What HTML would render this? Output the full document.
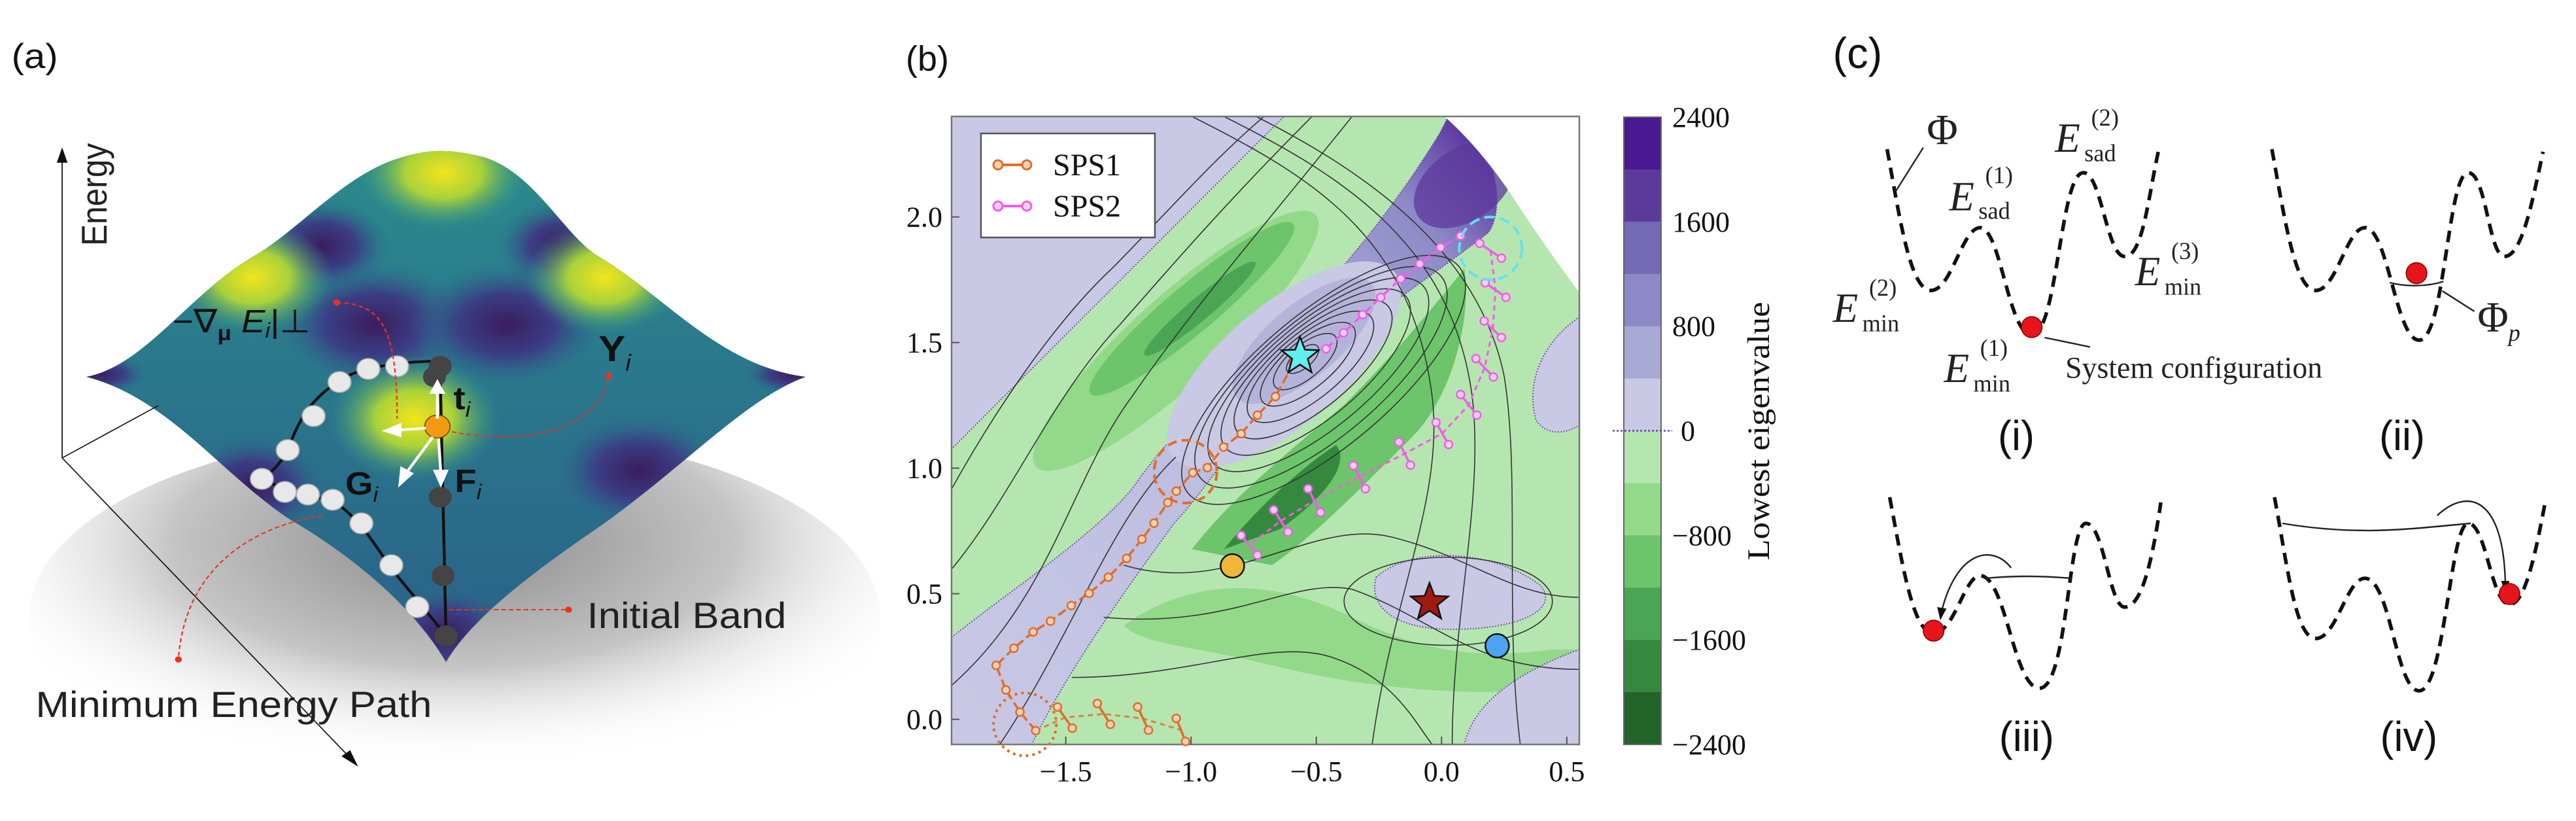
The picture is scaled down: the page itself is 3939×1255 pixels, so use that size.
<!DOCTYPE html>
<html><head><meta charset="utf-8"><style>
html,body{margin:0;padding:0;background:#fff;}
svg{display:block;}
</style></head><body>
<svg id="fig" width="3939" height="1255" viewBox="0 0 3939 1255" xmlns="http://www.w3.org/2000/svg">
<defs>
  <radialGradient id="shadowG" cx="0.5" cy="0.3" r="0.6"><stop offset="0" stop-color="#8a8a8a"/><stop offset="0.55" stop-color="#c4c4c4"/><stop offset="1" stop-color="#fff" stop-opacity="0"/></radialGradient>
  <radialGradient id="yel" cx="0.5" cy="0.5" r="0.5"><stop offset="0" stop-color="#f2e51c"/><stop offset="0.45" stop-color="#a9d23a"/><stop offset="1" stop-color="#2f9a8a" stop-opacity="0"/></radialGradient>
  <radialGradient id="pur" cx="0.5" cy="0.5" r="0.5"><stop offset="0" stop-color="#3b1c5e"/><stop offset="0.5" stop-color="#3a3f85"/><stop offset="1" stop-color="#2b6f8e" stop-opacity="0"/></radialGradient>
  <linearGradient id="surfG" x1="0" y1="0" x2="0" y2="1"><stop offset="0" stop-color="#2a8c8c"/><stop offset="1" stop-color="#2a5f8a"/></linearGradient>
  <linearGradient id="bandPur" x1="0" y1="1" x2="1" y2="0"><stop offset="0" stop-color="#c9c9e6"/><stop offset="0.6" stop-color="#b9b9de"/><stop offset="0.85" stop-color="#8c89c6"/><stop offset="1" stop-color="#4a1890"/></linearGradient>
  <clipPath id="plotClip"><rect x="1455" y="178" width="960" height="960"/></clipPath>
  <clipPath id="surfClip"><path d="M150,720 C250,700 330,560 440,490 C520,440 600,330 700,300 C760,280 800,290 840,300 C930,330 980,450 1040,490 C1150,560 1250,700 1400,720 C1300,760 1200,880 1050,1000 C930,1090 820,1180 775,1265 C730,1180 640,1080 500,990 C380,900 290,760 150,720 Z"/></clipPath>
</defs>

<!-- ============ PANEL A ============ -->
<g transform="scale(0.880,0.8)">
  <text x="20" y="130" font-family="Liberation Sans, sans-serif" font-size="66" fill="#111">(a)</text>
  <ellipse cx="790" cy="1180" rx="740" ry="360" fill="url(#shadowG)"/>
  <g clip-path="url(#surfClip)">
    <rect x="100" y="250" width="1350" height="1050" fill="url(#surfG)"/>
    <ellipse cx="650" cy="620" rx="170" ry="120" fill="url(#pur)"/>
    <ellipse cx="880" cy="620" rx="170" ry="120" fill="url(#pur)"/>
    <ellipse cx="1110" cy="900" rx="150" ry="110" fill="url(#pur)"/>
    <ellipse cx="440" cy="930" rx="130" ry="100" fill="url(#pur)"/>
    <ellipse cx="775" cy="1210" rx="120" ry="90" fill="url(#pur)"/>
    <ellipse cx="170" cy="715" rx="90" ry="40" fill="url(#pur)"/>
    <ellipse cx="1380" cy="715" rx="90" ry="40" fill="url(#pur)"/>
    <ellipse cx="560" cy="470" rx="120" ry="90" fill="url(#pur)"/>
    <ellipse cx="980" cy="470" rx="120" ry="90" fill="url(#pur)"/>
    <ellipse cx="770" cy="330" rx="150" ry="110" fill="url(#yel)"/>
    <ellipse cx="440" cy="530" rx="140" ry="110" fill="url(#yel)"/>
    <ellipse cx="1050" cy="530" rx="140" ry="110" fill="url(#yel)"/>
    <ellipse cx="720" cy="800" rx="150" ry="120" fill="url(#yel)"/>
  </g>
  <g stroke="#111" stroke-width="2" fill="none">
    <line x1="108" y1="875" x2="108" y2="300"/>
    <path d="M100,310 L108,285 L116,310 Z" fill="#111"/>
    <line x1="108" y1="875" x2="610" y2="1450"/>
    <path d="M595,1445 L620,1462 L608,1435 Z" fill="#111"/>
    <line x1="108" y1="875" x2="275" y2="775"/>
  </g>
  <text transform="translate(185,470) rotate(-90)" font-family="Liberation Sans, sans-serif" font-size="62" fill="#222">Energy</text>
  <g>
    <path d="M770,690 C700,690 640,700 600,720 C540,760 520,800 500,860 C480,900 460,910 455,915 C500,940 540,950 575,955 C630,990 660,1060 690,1100 C720,1140 750,1180 775,1215" stroke="#111" stroke-width="5" fill="none"/>
    <g fill="#e8e8e8" stroke="#aaa" stroke-width="2">
      <circle cx="690" cy="700" r="20"/><circle cx="640" cy="705" r="20"/><circle cx="590" cy="730" r="20"/>
      <circle cx="545" cy="795" r="20"/><circle cx="500" cy="860" r="20"/><circle cx="455" cy="915" r="20"/>
      <circle cx="495" cy="940" r="20"/><circle cx="535" cy="945" r="20"/><circle cx="578" cy="955" r="20"/>
      <circle cx="628" cy="1000" r="20"/><circle cx="680" cy="1080" r="20"/><circle cx="725" cy="1160" r="20"/>
    </g>
  </g>
  <g>
    <line x1="765" y1="720" x2="775" y2="1215" stroke="#111" stroke-width="5"/>
    <g fill="#444"><circle cx="765" cy="700" r="20"/><circle cx="755" cy="720" r="20"/><circle cx="765" cy="950" r="20"/><circle cx="770" cy="1100" r="20"/><circle cx="775" cy="1215" r="20"/></g>
    <circle cx="760" cy="815" r="22" fill="#f29a12" stroke="#7a4a00" stroke-width="2"/>
  </g>
  <g stroke="#fff" stroke-width="5" fill="#fff">
    <line x1="760" y1="800" x2="760" y2="745"/><path d="M750,750 L760,730 L770,750Z"/>
    <line x1="740" y1="818" x2="690" y2="822"/><path d="M695,812 L670,823 L695,832Z"/>
    <line x1="752" y1="835" x2="705" y2="905"/><path d="M698,895 L695,925 L715,905Z"/>
    <line x1="762" y1="838" x2="766" y2="905"/><path d="M756,900 L766,925 L776,900Z"/>
  </g>
  <g stroke="#e8341c" stroke-width="2.5" stroke-dasharray="8,5" fill="none">
    <path d="M585,578 C660,580 690,620 690,800"/>
    <path d="M785,825 C900,850 1040,830 1058,718"/>
    <path d="M560,985 C420,1010 320,1100 310,1260"/>
    <path d="M780,1165 L985,1165"/>
  </g>
  <g fill="#e8341c"><circle cx="585" cy="578" r="6"/><circle cx="1058" cy="718" r="6"/><circle cx="310" cy="1260" r="6"/><circle cx="988" cy="1165" r="6"/></g>
  <text x="300" y="635" font-family="Liberation Sans, sans-serif" font-size="62" fill="#111">−∇<tspan font-size="40" font-weight="bold" dy="15">μ</tspan><tspan dy="-15" font-style="italic"> E</tspan><tspan font-size="40" font-style="italic" dy="10">i</tspan><tspan dy="-10">|⊥</tspan></text>
  <text x="1040" y="690" font-family="Liberation Sans, sans-serif" font-size="70" font-weight="bold" fill="#111">Y<tspan font-size="44" font-style="italic" font-weight="normal" dy="18">i</tspan></text>
  <text x="788" y="782" font-family="Liberation Sans, sans-serif" font-size="62" font-weight="bold" fill="#111">t<tspan font-size="40" font-style="italic" font-weight="normal" dy="14">i</tspan></text>
  <text x="600" y="945" font-family="Liberation Sans, sans-serif" font-size="62" font-weight="bold" fill="#111">G<tspan font-size="40" font-style="italic" font-weight="normal" dy="14">i</tspan></text>
  <text x="790" y="940" font-family="Liberation Sans, sans-serif" font-size="62" font-weight="bold" fill="#111">F<tspan font-size="40" font-style="italic" font-weight="normal" dy="14">i</tspan></text>
  <text x="1020" y="1200" font-family="Liberation Sans, sans-serif" font-size="70" fill="#222">Initial Band</text>
  <text x="62" y="1370" font-family="Liberation Sans, sans-serif" font-size="70" fill="#222">Minimum Energy Path</text>
</g>

<!-- ============ PANEL B ============ -->
<g>
  <text x="1385" y="108" font-family="Liberation Sans, sans-serif" font-size="54" fill="#111">(b)</text>
  <g clip-path="url(#plotClip)">
    <g transform="translate(1455,178) scale(0.6125)">
      <rect x="0" y="0" width="1568" height="1568" fill="#b6e6b0"/>
      <path d="M0,0 L830,0 L0,830 Z" fill="#c9c9e6" stroke="#6a3fb0" stroke-width="3" stroke-dasharray="3,4"/>
      <g fill="#93d98a"><ellipse cx="560" cy="560" rx="470" ry="110" transform="rotate(-42 560 560)"/></g>
      <g fill="#6cc56a"><ellipse cx="600" cy="480" rx="330" ry="60" transform="rotate(-40 600 480)"/></g>
      <g fill="#4aa654"><ellipse cx="620" cy="480" rx="180" ry="28" transform="rotate(-40 620 480)"/></g>
      <path d="M0,1300 C150,1180 350,1050 450,930 C500,860 560,780 700,660 C850,520 1050,320 1220,40 L1240,0 L1330,80 C1370,160 1370,250 1340,290 C1200,400 950,560 800,720 C700,820 620,950 560,1010 C420,1200 280,1400 200,1568 L0,1568 Z" fill="url(#bandPur)" stroke="#6a3fb0" stroke-width="3" stroke-dasharray="3,4"/>
      <ellipse cx="830" cy="620" rx="360" ry="150" transform="rotate(-40 830 620)" fill="#c9c9e6"/>
      <ellipse cx="880" cy="560" rx="220" ry="90" transform="rotate(-40 880 560)" fill="#b4b4db"/>
      <path d="M600,1080 C700,950 850,830 980,720 C1100,600 1200,480 1280,380 C1300,500 1250,700 1150,800 C1000,950 900,1050 800,1120 Z" fill="#6cc56a"/>
      <path d="M680,1080 C760,980 880,870 960,820 C1000,870 920,960 820,1030 Z" fill="#35893f"/>
      <path d="M430,1270 C600,1150 800,1150 1000,1250 C1200,1350 1350,1350 1500,1330 L1568,1330 L1568,1420 C1300,1460 1000,1420 800,1370 C600,1320 480,1320 430,1270 Z" fill="#93d98a"/>
      <path d="M1060,1150 C1150,1070 1350,1080 1470,1170 C1520,1230 1420,1280 1250,1280 C1100,1280 1040,1220 1060,1150 Z" fill="#c9c9e6" stroke="#6a3fb0" stroke-width="3" stroke-dasharray="3,4"/>
      <path d="M1568,500 C1480,560 1430,660 1460,760 C1490,800 1540,790 1568,770 Z" fill="#c9c9e6" stroke="#6a3fb0" stroke-width="3" stroke-dasharray="3,4"/>
      <path d="M1280,1568 C1300,1480 1380,1400 1568,1330 L1568,1568 Z" fill="#c9c9e6" stroke="#6a3fb0" stroke-width="3" stroke-dasharray="3,4"/>
      <ellipse cx="1280" cy="170" rx="140" ry="90" transform="rotate(-35 1280 170)" fill="#5c3a9c" opacity="0.75"/>
      <g fill="none" stroke="#333" stroke-width="2.6">
        <path d="M0,1420 C250,1200 300,900 450,700 C600,480 800,250 1000,0"/>
        <path d="M0,1130 C150,950 250,700 420,520 C560,360 700,200 900,0"/>
        <path d="M0,930 C100,750 250,520 400,380 C520,260 640,120 780,0"/>
        <path d="M120,1568 C300,1300 400,1000 560,850"/>
        <path d="M600,0 C900,150 1150,300 1200,700 C1230,950 1100,1200 1050,1568"/>
        <path d="M680,0 C980,150 1250,320 1300,700 C1330,950 1250,1250 1250,1568"/>
        <path d="M760,0 C1060,150 1320,350 1380,650 C1420,900 1380,1250 1420,1568"/>
        <path d="M430,1120 C700,1200 900,1000 1100,1050 C1300,1100 1400,1200 1568,1200"/>
        <path d="M380,1250 C700,1280 850,1150 1000,1180 C1200,1250 1300,1380 1568,1380"/>
        <path d="M300,1400 C600,1400 800,1300 950,1350 C1100,1400 1150,1500 1200,1568"/>
        <ellipse cx="1240" cy="1210" rx="260" ry="110"/>
      </g>
      <path d="M1230,0 C1300,60 1370,150 1420,230 C1480,320 1530,390 1568,440 L1568,0 Z" fill="#fff"/>
    </g>
    <g id="contourLines" fill="none" stroke="#333" stroke-width="1.6"></g>
  </g>
  <rect x="1455" y="178" width="960" height="960" fill="none" stroke="#777" stroke-width="2.5"/>
  <g id="bAxes"></g>
  <g id="bMarks"></g>
  <g>
    <rect x="1500" y="204" width="266" height="159" fill="#fff" stroke="#555" stroke-width="2.5"/>
    <g>
      <line x1="1522" y1="252" x2="1574" y2="252" stroke="#e06c2a" stroke-width="4"/>
      <circle cx="1526" cy="252" r="7" fill="#fbd3b8" stroke="#e06c2a" stroke-width="3"/><circle cx="1570" cy="252" r="7" fill="#fbd3b8" stroke="#e06c2a" stroke-width="3"/>
      <text x="1610" y="268" font-family="Liberation Serif, serif" font-size="48" fill="#111">SPS1</text>
    </g>
    <g>
      <line x1="1522" y1="315" x2="1574" y2="315" stroke="#ef5ee8" stroke-width="4"/>
      <circle cx="1526" cy="315" r="7" fill="#fbd0f7" stroke="#ef5ee8" stroke-width="3"/><circle cx="1570" cy="315" r="7" fill="#fbd0f7" stroke="#ef5ee8" stroke-width="3"/>
      <text x="1610" y="331" font-family="Liberation Serif, serif" font-size="48" fill="#111">SPS2</text>
    </g>
  </g>
  <g id="colorbar"></g>
  <text transform="translate(2705,659) rotate(-90)" text-anchor="middle" font-family="Liberation Serif, serif" font-size="48" fill="#111" textLength="395" lengthAdjust="spacingAndGlyphs">Lowest eigenvalue</text>
</g>

<!-- ============ PANEL C ============ -->
<g transform="translate(2700,0) scale(0.7898,0.8)">
  <text x="130" y="130" font-family="Liberation Sans, sans-serif" font-size="82" fill="#111">(c)</text>
  <g fill="none" stroke="#111" stroke-width="7" stroke-dasharray="22,14">
    <path d="M235,285 C260,420 280,555 320,555 C360,555 380,435 415,435 C455,435 470,640 515,640 C565,640 570,330 615,330 C650,330 660,490 695,490 C730,490 740,380 760,290"/>
    <path d="M980,285 C1005,420 1025,555 1065,555 C1105,555 1125,435 1160,435 C1205,435 1220,650 1265,650 C1315,650 1320,330 1360,330 C1395,330 1400,490 1430,490 C1465,490 1485,380 1505,290"/>
    <path d="M240,950 C265,1080 285,1210 325,1210 C365,1210 385,1100 415,1100 C465,1100 480,1315 530,1315 C585,1315 585,1000 620,1000 C655,1000 665,1160 695,1160 C730,1160 750,1060 765,960"/>
    <path d="M985,950 C1010,1080 1025,1220 1065,1220 C1105,1220 1125,1105 1160,1105 C1210,1105 1220,1320 1265,1320 C1315,1320 1325,1000 1360,1000 C1395,1000 1405,1155 1440,1155 C1470,1155 1490,1060 1510,955"/>
  </g>
  <g fill="none" stroke="#222" stroke-width="3">
    <line x1="305" y1="282" x2="252" y2="365"/>
    <line x1="540" y1="645" x2="628" y2="663"/>
    <path d="M1208,540 C1240,548 1280,548 1312,538"/>
    <line x1="1310" y1="556" x2="1372" y2="595"/>
    <path d="M425,1105 C480,1100 530,1100 592,1105"/>
    <path d="M475,1085 C440,1040 370,1050 340,1170"/>
    <path d="M1000,1000 C1150,1025 1250,1010 1365,1000"/>
    <path d="M1300,985 C1360,930 1430,950 1432,1120"/>
  </g>
  <g fill="#111"><path d="M332,1160 L338,1185 L350,1163Z"/><path d="M1424,1110 L1432,1135 L1440,1110Z"/></g>
  <g fill="#e8141c" stroke="#8a0000" stroke-width="2">
    <circle cx="515" cy="625" r="20"/><circle cx="1260" cy="522" r="20"/><circle cx="325" cy="1205" r="20"/><circle cx="1440" cy="1135" r="20"/>
  </g>
  <g font-family="Liberation Serif, serif" fill="#222">
    <text x="312" y="275" font-size="82">Φ</text>
    <text x="355" y="402" font-size="80" font-style="italic">E</text><text x="425" y="350" font-size="46">(1)</text><text x="412" y="418" font-size="46">sad</text>
    <text x="560" y="290" font-size="80" font-style="italic">E</text><text x="630" y="240" font-size="46">(2)</text><text x="617" y="308" font-size="46">sad</text>
    <text x="715" y="545" font-size="80" font-style="italic">E</text><text x="785" y="495" font-size="46">(3)</text><text x="772" y="563" font-size="46">min</text>
    <text x="130" y="615" font-size="80" font-style="italic">E</text><text x="200" y="565" font-size="46">(2)</text><text x="187" y="633" font-size="46">min</text>
    <text x="345" y="730" font-size="80" font-style="italic">E</text><text x="415" y="680" font-size="46">(1)</text><text x="402" y="748" font-size="46">min</text>
    <text x="580" y="722" font-size="58">System configuration</text>
    <text x="1378" y="633" font-size="82">Φ<tspan font-size="46" font-style="italic" dy="18">p</tspan></text>
  </g>
  <g font-family="Liberation Sans, sans-serif" font-size="80" fill="#111" text-anchor="middle">
    <text x="485" y="860">(i)</text><text x="1232" y="860">(ii)</text><text x="505" y="1435">(iii)</text><text x="1245" y="1435">(iv)</text>
  </g>
</g>

<script>
// ---- panel b data ----
const xTicks = [-1.5, -1.0, -0.5, 0.0, 0.5];
const yTicks = [0.0, 0.5, 1.0, 1.5, 2.0];
const xDomain = [-1.956, 0.55];
const yDomain = [-0.1, 2.4];
const sps1X = [-0.591,-0.663,-0.735,-0.800,-0.870,-0.935,-0.993,-1.059,-1.093,-1.148,-1.196,-1.257,-1.330,-1.407,-1.478,-1.561,-1.630,-1.707,-1.778,-1.739,-1.683,-1.620];
const sps1Y = [1.416,1.285,1.211,1.137,1.084,1.002,0.982,0.908,0.863,0.781,0.717,0.641,0.566,0.502,0.453,0.391,0.348,0.283,0.215,0.117,0.029,-0.045];
const sps1DimerAX = [-1.533,-1.374,-1.213,-1.059];
const sps1DimerAY = [0.049,0.063,0.049,0.004];
const sps1DimerBX = [-1.474,-1.322,-1.170,-1.022];
const sps1DimerBY = [-0.035,-0.020,-0.043,-0.088];
const sps2X = [-0.461,-0.391,-0.315,-0.243,-0.163,-0.087,-0.004,0.076];
const sps2Y = [1.475,1.539,1.611,1.680,1.754,1.813,1.879,1.924];
const sps2DimerAX = [0.152,0.174,0.170,0.137,0.076,-0.022,-0.170,-0.352,-0.533,-0.670,-0.800];
const sps2DimerAY = [1.895,1.738,1.586,1.436,1.293,1.182,1.104,1.010,0.918,0.834,0.732];
const sps2DimerBX = [0.239,0.257,0.239,0.207,0.141,0.028,-0.124,-0.304,-0.483,-0.613,-0.735];
const sps2DimerBY = [1.836,1.680,1.520,1.363,1.211,1.094,1.012,0.918,0.824,0.746,0.654];
const starCyan = [-0.565, 1.445];
const starRed = [-0.048, 0.465];
const dotYellow = [-0.835, 0.611];
const dotBlue = [0.222, 0.293];
const circleX = [-1.022, 0.196, -1.663];
const circleY = [0.986, 1.875, -0.02];
const contourLevels = [1, 2, 3, 4, 5, 6, 7, 8, 9];
const cbarValues = [2400, 2000, 1600, 1200, 800, 400, 0, -400, -800, -1200, -1600, -2000, -2400];
const cbarTickValues = [2400, 1600, 800, 0, -800, -1600, -2400];
const cbarColors = ['#4a1890','#5c3a9c','#7469b4','#8c89c6','#a8a8d4','#c9c9e6','#b6e6b0','#93d98a','#6cc56a','#4aa654','#35893f','#22632a'];

const NS = 'http://www.w3.org/2000/svg';
const PX0 = 1455, PX1 = 2415, PY0 = 178, PY1 = 1138;
function sx(x){ return PX0 + (x - xDomain[0]) / (xDomain[1] - xDomain[0]) * (PX1 - PX0); }
function sy(y){ return PY1 - (y - yDomain[0]) / (yDomain[1] - yDomain[0]) * (PY1 - PY0); }
function mk(tag, attrs, parent){ const e = document.createElementNS(NS, tag); for (const k in attrs) e.setAttribute(k, attrs[k]); parent.appendChild(e); return e; }

const axes = document.getElementById('bAxes');
xTicks.forEach(v => {
  const t = mk('line', {x1: sx(v), x2: sx(v), y1: PY1, y2: PY1 - 12, stroke: '#555', 'stroke-width': 2}, axes);
  
  
  const l = mk('text', {x: sx(v), y: PY1 + 56, 'text-anchor': 'middle', 'font-family': 'Liberation Serif, serif', 'font-size': 44, fill: '#111'}, axes);
  l.textContent = v.toFixed(1).replace('-', '−');
  
  
});
yTicks.forEach(v => {
  const t = mk('line', {x1: PX0, x2: PX0 + 12, y1: sy(v), y2: sy(v), stroke: '#555', 'stroke-width': 2}, axes);
  
  
  const l = mk('text', {x: PX0 - 14, y: sy(v) + 15, 'text-anchor': 'end', 'font-family': 'Liberation Serif, serif', 'font-size': 44, fill: '#111'}, axes);
  l.textContent = v.toFixed(1);
  
  
});

// contour rings around the saddle-star basin
const cl = document.getElementById('contourLines');
contourLevels.forEach(k => {
  const cxr = sx(starCyan[0]) + 4*k, cyr = sy(starCyan[1]) + 4*k;
  const e = mk('ellipse', {cx: cxr, cy: cyr, rx: 30*k, ry: 11*k + 3, transform: `rotate(-40 ${cxr} ${cyr})`}, cl);
  
  
});

const marks = document.getElementById('bMarks');
const o1 = '#e06c2a', o2 = '#ef5ee8';
let d1 = sps1X.map((x,i) => (i ? 'L' : 'M') + sx(x) + ',' + sy(sps1Y[i])).join(' ');
const p1 = mk('path', {d: d1, fill: 'none', stroke: o1, 'stroke-width': 3.5, 'stroke-dasharray': '14,6'}, marks);


const mid1 = sps1DimerAX.map((x,i) => [(x + sps1DimerBX[i]) / 2, (sps1DimerAY[i] + sps1DimerBY[i]) / 2]);
const dm1 = mk('path', {d: 'M' + sx(sps1X[sps1X.length-1]) + ',' + sy(sps1Y[sps1Y.length-1]) + ' ' + mid1.map(m => 'L' + sx(m[0]) + ',' + sy(m[1])).join(' '), fill: 'none', stroke: o1, 'stroke-width': 3, 'stroke-dasharray': '8,6', opacity: 0.8}, marks);


sps1DimerAX.forEach((x,i) => {
  const l = mk('line', {x1: sx(x), y1: sy(sps1DimerAY[i]), x2: sx(sps1DimerBX[i]), y2: sy(sps1DimerBY[i]), stroke: o1, 'stroke-width': 3.5}, marks);
  
  
});
const pts1 = sps1X.map((x,i)=>[x,sps1Y[i]]).concat(sps1DimerAX.map((x,i)=>[x,sps1DimerAY[i]]), sps1DimerBX.map((x,i)=>[x,sps1DimerBY[i]]));
pts1.forEach(p => {
  const c = mk('circle', {cx: sx(p[0]), cy: sy(p[1]), r: 6, fill: '#fbd3b8', stroke: o1, 'stroke-width': 2.5}, marks);
  
  
});
let d2 = sps2X.map((x,i) => (i ? 'L' : 'M') + sx(x) + ',' + sy(sps2Y[i])).join(' ');
const p2 = mk('path', {d: d2, fill: 'none', stroke: o2, 'stroke-width': 3.5, 'stroke-dasharray': '14,6'}, marks);


const mid2 = sps2DimerAX.map((x,i) => [(x + sps2DimerBX[i]) / 2, (sps2DimerAY[i] + sps2DimerBY[i]) / 2]);
const dm2 = mk('path', {d: mid2.map((m,i) => (i ? 'L' : 'M') + sx(m[0]) + ',' + sy(m[1])).join(' '), fill: 'none', stroke: o2, 'stroke-width': 3, 'stroke-dasharray': '8,6'}, marks);


sps2DimerAX.forEach((x,i) => {
  const l = mk('line', {x1: sx(x), y1: sy(sps2DimerAY[i]), x2: sx(sps2DimerBX[i]), y2: sy(sps2DimerBY[i]), stroke: o2, 'stroke-width': 3.5}, marks);
  
  
});
const pts2 = sps2X.map((x,i)=>[x,sps2Y[i]]).concat(sps2DimerAX.map((x,i)=>[x,sps2DimerAY[i]]), sps2DimerBX.map((x,i)=>[x,sps2DimerBY[i]]));
pts2.forEach(p => {
  const c = mk('circle', {cx: sx(p[0]), cy: sy(p[1]), r: 6, fill: '#fbd0f7', stroke: o2, 'stroke-width': 2.5}, marks);
  
  
});
const cStyles = [['#e06c2a','14,8'],['#66e0ee','16,8'],['#e06c2a','4,6']];
circleX.forEach((x,i) => {
  const c = mk('circle', {cx: sx(x), cy: sy(circleY[i]), r: 48, fill: 'none', stroke: cStyles[i][0], 'stroke-width': 4, 'stroke-dasharray': cStyles[i][1]}, marks);
  
  
});
function star(cx, cy, R, fill){
  let d = '';
  for (let i = 0; i < 10; i++){ const r = i % 2 ? R*0.42 : R; const a = -Math.PI/2 + i*Math.PI/5; d += (i ? 'L' : 'M') + (cx + r*Math.cos(a)).toFixed(1) + ',' + (cy + r*Math.sin(a)).toFixed(1); }
  return mk('path', {d: d + 'Z', fill: fill, stroke: '#111', 'stroke-width': 2.5}, marks);
}
const s1 = star(sx(starCyan[0]), sy(starCyan[1]), 30, '#5ff0ee');


const s2 = star(sx(starRed[0]), sy(starRed[1]), 30, '#a01a12');


const cy1 = mk('circle', {cx: sx(dotYellow[0]), cy: sy(dotYellow[1]), r: 18, fill: '#f0b63a', stroke: '#111', 'stroke-width': 2.5}, marks);


const cb1 = mk('circle', {cx: sx(dotBlue[0]), cy: sy(dotBlue[1]), r: 18, fill: '#4ca4f2', stroke: '#111', 'stroke-width': 2.5}, marks);



const cb = document.getElementById('colorbar');
const CBX = 2483, CBW = 57, CBY0 = 179, CBY1 = 1138;
function cy(v){ return CBY0 + (2400 - v) / 4800 * (CBY1 - CBY0); }
cbarColors.forEach((col,i) => {
  const r = mk('rect', {x: CBX, y: cy(cbarValues[i]), width: CBW, height: cy(cbarValues[i+1]) - cy(cbarValues[i]) + 0.5, fill: col}, cb);
  
  
});
mk('rect', {x: CBX, y: CBY0, width: CBW, height: CBY1 - CBY0, fill: 'none', stroke: '#666', 'stroke-width': 2}, cb);
mk('line', {x1: 2466, x2: 2557, y1: cy(0), y2: cy(0), stroke: '#6a3fb0', 'stroke-width': 2.5, 'stroke-dasharray': '3,3'}, cb);
cbarTickValues.forEach(v => {
  const t = mk('text', {x: 2557, y: cy(v) + 15, 'font-family': 'Liberation Serif, serif', 'font-size': 44, fill: '#111'}, cb);
  t.textContent = v < 0 ? '−' + Math.abs(v) : String(v);
  if (v === 0) t.setAttribute('x', 2570);
  
  
});
</script>
</svg>
</body></html>
